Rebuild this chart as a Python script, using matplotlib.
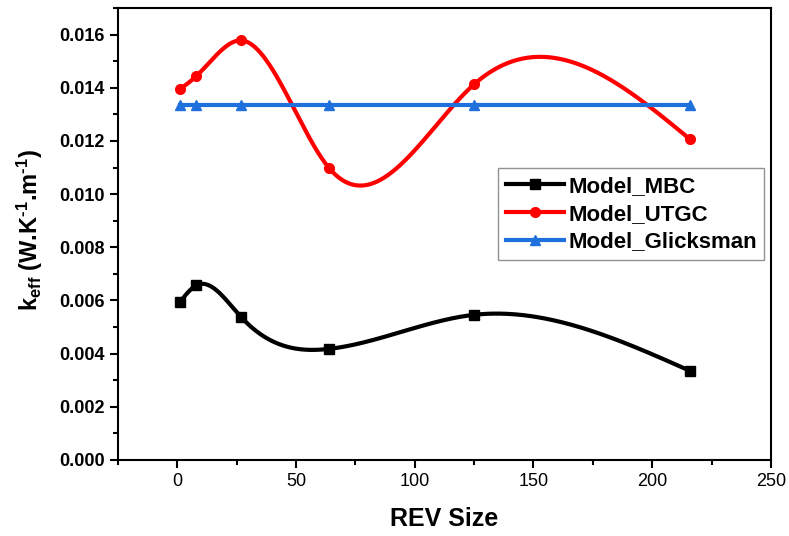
import numpy as np
import matplotlib.pyplot as plt

plt.rcParams['font.family'] = ['Liberation Sans', 'DejaVu Sans']
plt.rcParams['mathtext.fontset'] = 'custom'
plt.rcParams['mathtext.rm'] = 'Liberation Sans:bold'
plt.rcParams['mathtext.it'] = 'Liberation Sans:bold'
plt.rcParams['mathtext.bf'] = 'Liberation Sans:bold'

# data
rev_size = [1, 8, 27, 64, 125, 216]
k_mbc = [0.00593, 0.00657, 0.00536, 0.00418, 0.00546, 0.00335]
k_utgc = [0.01394, 0.01444, 0.01578, 0.01097, 0.01413, 0.01206]
k_glick = [0.01336, 0.01336, 0.01336, 0.01336, 0.01336, 0.01336]


def spline(x, y, n=400):
    # natural cubic spline, just for drawing the smooth line
    x = np.asarray(x, float)
    y = np.asarray(y, float)
    h = np.diff(x)
    m = len(x)
    A = np.zeros((m, m))
    b = np.zeros(m)
    A[0, 0] = A[-1, -1] = 1
    for i in range(1, m - 1):
        A[i, i - 1] = h[i - 1]
        A[i, i] = 2 * (h[i - 1] + h[i])
        A[i, i + 1] = h[i]
        b[i] = 6 * ((y[i + 1] - y[i]) / h[i] - (y[i] - y[i - 1]) / h[i - 1])
    M = np.linalg.solve(A, b)
    xs = np.linspace(x[0], x[-1], n)
    idx = np.clip(np.searchsorted(x, xs) - 1, 0, m - 2)
    x0, x1 = x[idx], x[idx + 1]
    hh = x1 - x0
    ys = (M[idx] * (x1 - xs) ** 3 / (6 * hh) + M[idx + 1] * (xs - x0) ** 3 / (6 * hh)
          + (y[idx] / hh - M[idx] * hh / 6) * (x1 - xs)
          + (y[idx + 1] / hh - M[idx + 1] * hh / 6) * (xs - x0))
    return xs, ys


fig = plt.figure(figsize=(7.89, 5.36), dpi=100)
ax = fig.add_axes([0.1496, 0.1418, 0.8274, 0.8433])

series = [(k_mbc, 'black', 's', 'Model_MBC'),
          (k_utgc, '#ff0000', 'o', 'Model_UTGC'),
          (k_glick, '#1f6fdc', '^', 'Model_Glicksman')]
for vals, col, mk, lab in series:
    xs, ys = spline(rev_size, vals)
    ax.plot(xs, ys, color=col, lw=3)
    ax.plot(rev_size, vals, color=col, marker=mk, ms=7, ls='none')
    ax.plot([], [], color=col, lw=3, marker=mk, ms=7, label=lab)

ax.set_xlim(-25, 250)
ax.set_ylim(0, 0.017)
ax.set_xticks([0, 50, 100, 150, 200, 250])
ax.set_xticks(np.arange(-25, 251, 25), minor=True)
ax.set_yticks(np.arange(0, 0.0161, 0.002))
ax.set_yticks(np.arange(0, 0.0171, 0.001), minor=True)
ax.set_yticklabels(['%.3f' % v for v in np.arange(0, 0.0161, 0.002)])
ax.tick_params(which='major', length=6, width=1.5, labelsize=13)
ax.tick_params(which='minor', length=3.5, width=1.5)
for lbl in ax.get_yticklabels():
    lbl.set_fontweight('bold')
for s in ax.spines.values():
    s.set_linewidth(1.5)

ax.set_xlabel('REV Size', fontsize=18, fontweight='bold', labelpad=12)
ax.set_ylabel('k$_{eff}$ (W.K$^{\u20101}$.m$^{\u20101}$)',
              fontsize=17, fontweight='bold')
ax.yaxis.set_label_coords(-0.112, 0.51)

leg = ax.legend(loc='upper right', bbox_to_anchor=(0.997, 0.655), fancybox=False,
                prop={'weight': 'bold', 'size': 16}, handlelength=2.6,
                handletextpad=0.2, borderpad=0.35, labelspacing=0.3,
                borderaxespad=0.2)
leg.get_frame().set_edgecolor('#777777')
leg.get_frame().set_linewidth(1)

fig.savefig('out.png', dpi=100)
